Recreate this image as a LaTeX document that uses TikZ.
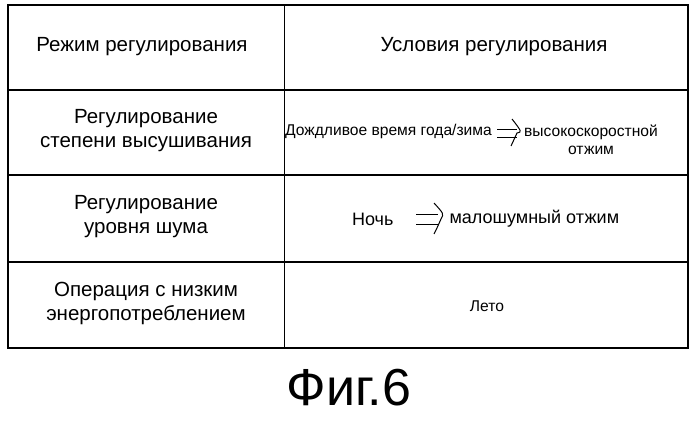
\documentclass[tikz,border=0pt]{standalone}
\usepackage{fontspec}
\setmainfont{Liberation Sans}
\begin{document}
\begin{tikzpicture}[x=1pt,y=-1pt,
  cell/.style={align=center,font=\fontsize{20.5}{24}\selectfont},
  small/.style={align=center,font=\fontsize{15.6}{18}\selectfont},
  mid/.style={font=\fontsize{18}{21}\selectfont},
  rule/.style={line width=1.2pt},
  dbl/.style={line width=1pt}]
\useasboundingbox[fill=white] (0,0) rectangle (700,420);
\draw[rule] (8,5) rectangle (688,348);
\draw[rule] (8,90) -- (688,90);
\draw[rule] (8,175) -- (688,175);
\draw[rule] (8,262) -- (688,262);
\draw[line width=0.8pt] (284,5) -- (284,348);
\node[cell] (h1) at (142,47) {Режим регулирования};
\node[cell] (h2) at (494,47) {Условия регулирования};
\node[cell] (r1) at (146,131) {Регулирование\\степени высушивания};
\node[cell] (r2) at (146,217) {Регулирование\\уровня шума};
\node[cell] (r3) at (146,303) {Операция с низким\\энергопотреблением};
\node[small,anchor=west,inner sep=0pt] (c1) at (285,131) {Дождливое время года/зима};
\node[small,align=center,anchor=north west,inner sep=0pt] (c1b) at (524,125) {высокоскоростной\\отжим};
\draw[dbl] (497,129) -- (517,129) (497,137) -- (517,137);
\draw[dbl] (512,119) .. controls (522,132) .. (517,133) .. controls (514,140) .. (511,146);
\node[mid,anchor=east] (c2a) at (397,219) {Ночь};
\node[mid,anchor=west] (c2b) at (446,219) {малошумный отжим};
\draw[dbl] (416,214) -- (438,214) (416,224) -- (438,224);
\draw[dbl] (434,203) .. controls (444,214) .. (441,219) .. controls (437,228) .. (434,234);
\node[small] (c3) at (487,306) {Лето};
\node[font=\fontsize{52}{60}\selectfont] (fig) at (349,388) {Фиг.6};
\end{tikzpicture}
\end{document}
